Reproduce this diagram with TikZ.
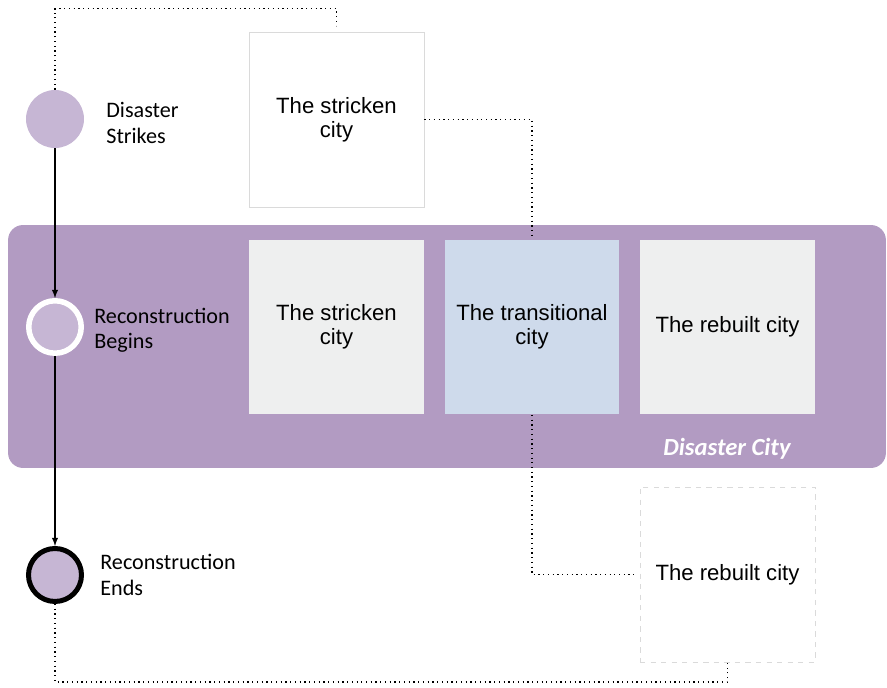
\documentclass[tikz,border=0pt]{standalone}
\usepackage{fontspec}
\setmainfont{Liberation Sans}
\newfontfamily\labelfont{Carlito}
\usetikzlibrary{arrows,positioning}
\definecolor{bandpurple}{RGB}{178,155,194}
\definecolor{dotpurple}{RGB}{198,182,212}
\definecolor{paleblue}{RGB}{206,218,235}
\definecolor{palegray}{RGB}{238,239,239}
\definecolor{edgegray}{RGB}{218,218,218}
\tikzset{
 city/.style = {rectangle, minimum size=3.5cm, inner sep=0pt, align=center,
           font=\fontsize{12.6}{13.8}\selectfont},
 event/.style = {circle, inner sep=0pt, fill=dotpurple},
 caption/.style = {anchor=west, align=left, inner sep=0pt,
           font=\labelfont\fontsize{12.6}{14.4}\selectfont},
 link/.style = {dotted, line width=0.7pt},
 flow/.style = {-latex, line width=0.6pt}
}

\begin{document}
\begin{tikzpicture}[x=0.02cm, y=-0.02cm]
  \useasboundingbox (0,0) rectangle (887,688);

  % Band
  \node[rectangle, fill=bandpurple, rounded corners=0.3cm,
    minimum width=17.56cm, minimum height=4.86cm] (band) at (447,346.5) {};
  \node[font=\labelfont\bfseries\itshape\fontsize{14}{16}\selectfont,
    text=white] (bandname) at (727,449) {Disaster City};

  % Events
  \node[event, minimum size=1.16cm] (strikes) at (55,119) {};
  \node[event, draw=white, line width=0.11cm, minimum size=1.05cm]
    (begins) at (55,327) {};
  \node[event, draw=black, line width=0.1cm, minimum size=1.06cm]
    (ends) at (55,575) {};

  \node[caption] (strikesname) at (106,123) {Disaster\\Strikes};
  \node[caption] (beginsname) at (94,330) {Reconstruction\\Begins};
  \node[caption] (endsname) at (100,575) {Reconstruction\\Ends};

  % Cities
  \node[city, fill=white, draw=edgegray, line width=0.4pt]
    (topstricken) at (336.5,119.5) {The stricken\\city};
  \node[city, fill=palegray] (stricken) at (336.5,327) {The stricken\\city};
  \node[city, fill=paleblue] (trans) at (532,327) {The transitional\\city};
  \node[city, fill=palegray] (rebuilt) at (727.5,327) {The rebuilt city};
  \node[city, fill=white, draw=edgegray, dashed, line width=0.4pt]
    (lowrebuilt) at (727.5,574.5) {The rebuilt city};

  % Links
  \draw[flow] (strikes.south) -- (begins.north);
  \draw[flow] (begins.south) -- (ends.north);

  \draw[link] (strikes.north) -- ++(0,-81)
    -| ([yshift=0.12cm]topstricken.north);
  \draw[link] (topstricken.east) -| (trans.north);
  \draw[link] (trans.south) |- ([xshift=-0.08cm]lowrebuilt.west);
  \draw[link] (ends.south) -- ++(0,78) -| ([yshift=-0.02cm]lowrebuilt.south);
\end{tikzpicture}
\end{document}
